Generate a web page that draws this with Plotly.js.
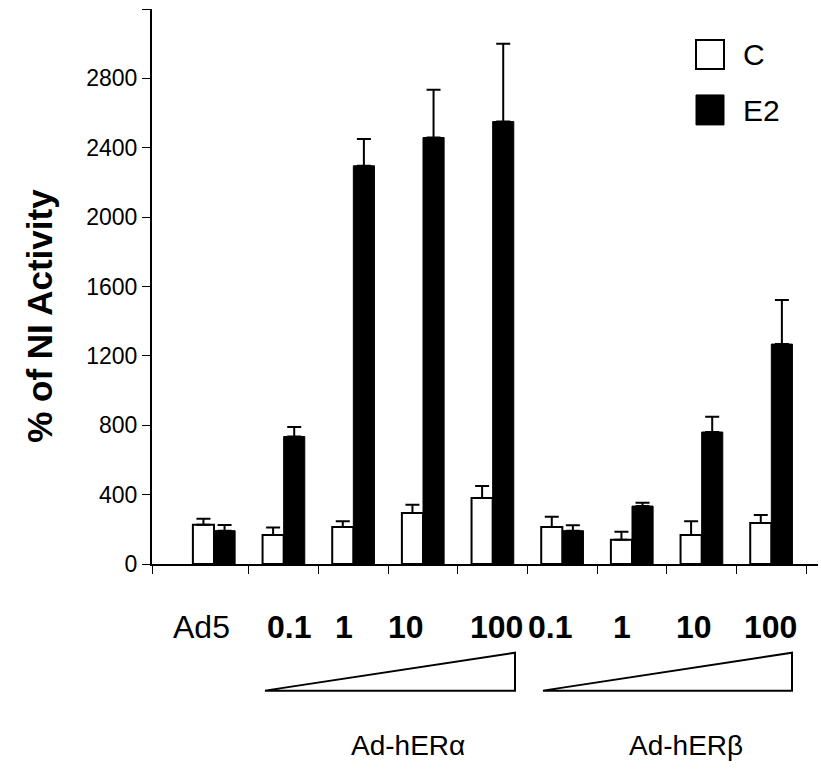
<!DOCTYPE html>
<html>
<head>
<meta charset="utf-8">
<script src="https://cdn.plot.ly/plotly-3.0.1.min.js"></script>
<style>html,body{margin:0;padding:0;background:#fff;}#chart{width:821px;height:772px;}</style>
</head>
<body>
<div id="chart"></div>
<script>
// ---- data ----
const categories = ['Ad5', 'hERa 0.1', 'hERa 1', 'hERa 10', 'hERa 100', 'hERb 0.1', 'hERb 1', 'hERb 10', 'hERb 100'];
const tickLabels = ['Ad5', '0.1', '1', '10', '100', '0.1', '1', '10', '100'];
const cValues  = [226, 167, 213, 294, 380, 213, 140, 167, 236];
const cErrors  = [35, 44, 33, 48, 70, 60, 46, 79, 46];
const e2Values = [192, 735, 2296, 2459, 2551, 192, 334, 761, 1268];
const e2Errors = [33, 55, 155, 275, 448, 31, 19, 88, 254];
const seriesNames = ['C', 'E2'];
const groupNames = ['Ad-hER\u03B1', 'Ad-hER\u03B2'];
const yTicks = [0, 400, 800, 1200, 1600, 2000, 2400, 2800, 3200];
const yTitle = '% of NI Activity';

// ---- layout helpers ----
const xIdx = categories.map((_, i) => i);
const FONT = 'Arial, "Liberation Sans", sans-serif';
const boundaries = [-0.89].concat(categories.slice(1).map((_, i) => i + 0.5)).concat([categories.length - 0.5]);
const plotL = 152, plotW = 666, plotB = 564.3, plotH = 555.3;
const px2paper = p => (p - plotL) / plotW;
const py = p => (plotB - p) / plotH;
const labelPx = [201, 289, 344, 406, 496, 550, 622, 694, 770];
const groupPx = [408, 686];

const traces = [
  {
    type: 'bar', name: seriesNames[0], x: xIdx, y: cValues,
    marker: {color: '#ffffff', line: {color: '#000000', width: 2}},
    error_y: {type: 'data', symmetric: false, array: cErrors, arrayminus: cErrors.map(() => 0),
              color: '#000000', thickness: 2, width: 7},
    showlegend: false
  },
  {
    type: 'bar', name: seriesNames[1], x: xIdx, y: e2Values,
    marker: {color: '#000000', line: {color: '#000000', width: 1}},
    error_y: {type: 'data', symmetric: false, array: e2Errors, arrayminus: e2Errors.map(() => 0),
              color: '#000000', thickness: 2, width: 7},
    showlegend: false
  }
];

const annotations = [];
tickLabels.forEach((t, i) => {
  annotations.push({
    xref: 'paper', yref: 'paper', x: px2paper(labelPx[i]), y: py(627),
    xanchor: 'center', yanchor: 'middle', showarrow: false,
    text: i === 0 ? t : '<b>' + t + '</b>',
    font: {family: FONT, size: 32, color: '#000'}
  });
});
groupNames.forEach((g, i) => {
  annotations.push({
    xref: 'paper', yref: 'paper', x: px2paper(groupPx[i]), y: py(746),
    xanchor: 'center', yanchor: 'middle', showarrow: false,
    text: g, font: {family: FONT, size: 28, color: '#000'}
  });
});
// y-axis title
annotations.push({
  xref: 'paper', yref: 'paper', x: px2paper(40), y: py(316), xanchor: 'center', yanchor: 'middle',
  showarrow: false, textangle: -90, text: '<b>' + yTitle + '</b>',
  font: {family: FONT, size: 35, color: '#000'}
});
// legend texts
annotations.push({xref: 'paper', yref: 'paper', x: px2paper(741), y: py(55), xanchor: 'left', yanchor: 'middle',
  showarrow: false, text: seriesNames[0], font: {family: FONT, size: 30, color: '#000'}});
annotations.push({xref: 'paper', yref: 'paper', x: px2paper(741), y: py(111), xanchor: 'left', yanchor: 'middle',
  showarrow: false, text: seriesNames[1], font: {family: FONT, size: 30, color: '#000'}});

const tri = (l, r) => `M ${px2paper(l)} ${py(691)} L ${px2paper(r)} ${py(691)} L ${px2paper(r)} ${py(653)} Z`;
const shapes = [
  {type: 'path', xref: 'paper', yref: 'paper', path: tri(265, 515), line: {color: '#000', width: 2}, fillcolor: 'rgba(0,0,0,0)'},
  {type: 'path', xref: 'paper', yref: 'paper', path: tri(543, 792), line: {color: '#000', width: 2}, fillcolor: 'rgba(0,0,0,0)'},
  {type: 'rect', xref: 'paper', yref: 'paper', x0: px2paper(696), x1: px2paper(724), y0: py(69), y1: py(40),
   line: {color: '#000', width: 2}, fillcolor: '#fff'},
  {type: 'rect', xref: 'paper', yref: 'paper', x0: px2paper(696), x1: px2paper(724), y0: py(125), y1: py(95),
   line: {color: '#000', width: 1}, fillcolor: '#000'}
];

const layout = {
  width: 821, height: 772,
  margin: {l: 152, r: 3, t: 9, b: 208, pad: 0},
  paper_bgcolor: '#fff', plot_bgcolor: '#fff',
  barmode: 'group', bargap: 0.394, bargroupgap: 0,
  showlegend: false,
  font: {family: FONT, color: '#000'},
  xaxis: {
    type: 'linear', range: [-0.89, 8.67], fixedrange: true,
    showgrid: false, zeroline: false,
    showline: true, linecolor: '#000', linewidth: 1.5,
    tickmode: 'array', tickvals: boundaries, ticktext: boundaries.map(() => ''),
    ticks: 'outside', ticklen: 8, tickwidth: 1, tickcolor: '#000'
  },
  yaxis: {
    range: [0, 3200], fixedrange: true,
    showgrid: false, zeroline: false,
    showline: true, linecolor: '#000', linewidth: 2,
    tickmode: 'array', tickvals: yTicks, ticktext: yTicks.map(v => v === 3200 ? '' : String(v)),
    ticks: 'outside', ticklen: 8, tickwidth: 1, tickcolor: '#000',
    tickfont: {family: FONT, size: 23, color: '#000'}
  },
  annotations: annotations,
  shapes: shapes
};

Plotly.newPlot('chart', traces, layout, {displayModeBar: false, staticPlot: true});
</script>
</body>
</html>
